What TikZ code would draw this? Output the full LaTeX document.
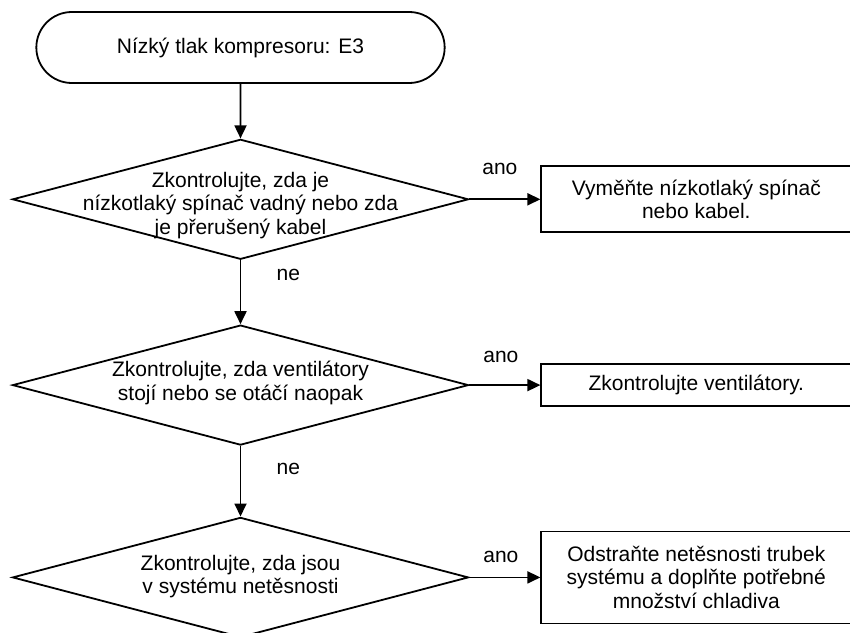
\documentclass[tikz,border=0pt]{standalone}
\usepackage{fontspec}
\setmainfont{Liberation Sans}
\usetikzlibrary{positioning, shapes.geometric, shapes.misc, arrows.meta}
\tikzset{
    startstop/.style={rounded rectangle, draw, line width=1.8pt, minimum width=415pt, minimum height=71pt, align=center},
    decision/.style={diamond, draw, line width=1.8pt, minimum width=456pt, minimum height=120pt, inner sep=0pt},
    dtext/.style={align=center},
    action/.style={rectangle, draw, line width=1.8pt, minimum width=310pt, align=center},
    flow/.style={line width=1.8pt, -{Triangle[length=13pt, width=12pt]}},
}

\begin{document}
\begin{tikzpicture}[font=\fontsize{21}{23.5}\selectfont]
    \useasboundingbox (-240.5pt,47.5pt) rectangle (609.5pt,-584.5pt);

    \node[startstop] (start) {Nízký tlak kompresoru: E3};
    \node[decision, below=54.5pt of start,
        label={[dtext, yshift=-6pt]center:{Zkontrolujte, zda je\\nízkotlaký spínač vadný nebo zda\\je přerušený kabel}}] (check1) {};
    \node[decision, below=64pt of check1,
        label={[dtext, yshift=2pt]center:{Zkontrolujte, zda ventilátory\\stojí nebo se otáčí naopak}}] (check2) {};
    \node[decision, below=70.5pt of check2,
        label={[dtext, yshift=1pt]center:{Zkontrolujte, zda jsou\\v systému netěsnosti}}] (check3) {};

    \node[action, minimum height=66pt, right=71pt of check1] (fix1) {Vyměňte nízkotlaký spínač\\nebo kabel.};
    \node[action, minimum height=42pt, right=71pt of check2] (fix2) {Zkontrolujte ventilátory.};
    \node[action, minimum height=92pt, right=71pt of check3] (fix3) {Odstraňte netěsnosti trubek\\systému a doplňte potřebné\\množství chladiva};

    % flow down
    \draw[flow] (start) -- (check1);
    \draw[flow] (check1) -- node[pos=0.23, right=32pt] (no1) {ne} (check2);
    \draw[flow] (check2) -- node[pos=0.33, right=32pt] (no2) {ne} (check3);

    % answers to the right
    \draw[flow] (check1) -- node[above, xshift=-5pt, yshift=20pt] (yes1) {ano} (fix1);
    \draw[flow] (check2) -- node[above, xshift=-4pt, yshift=18pt] (yes2) {ano} (fix2);
    \draw[flow] (check3) -- node[above, xshift=-4pt, yshift=10pt] (yes3) {ano} (fix3);
\end{tikzpicture}
\end{document}
